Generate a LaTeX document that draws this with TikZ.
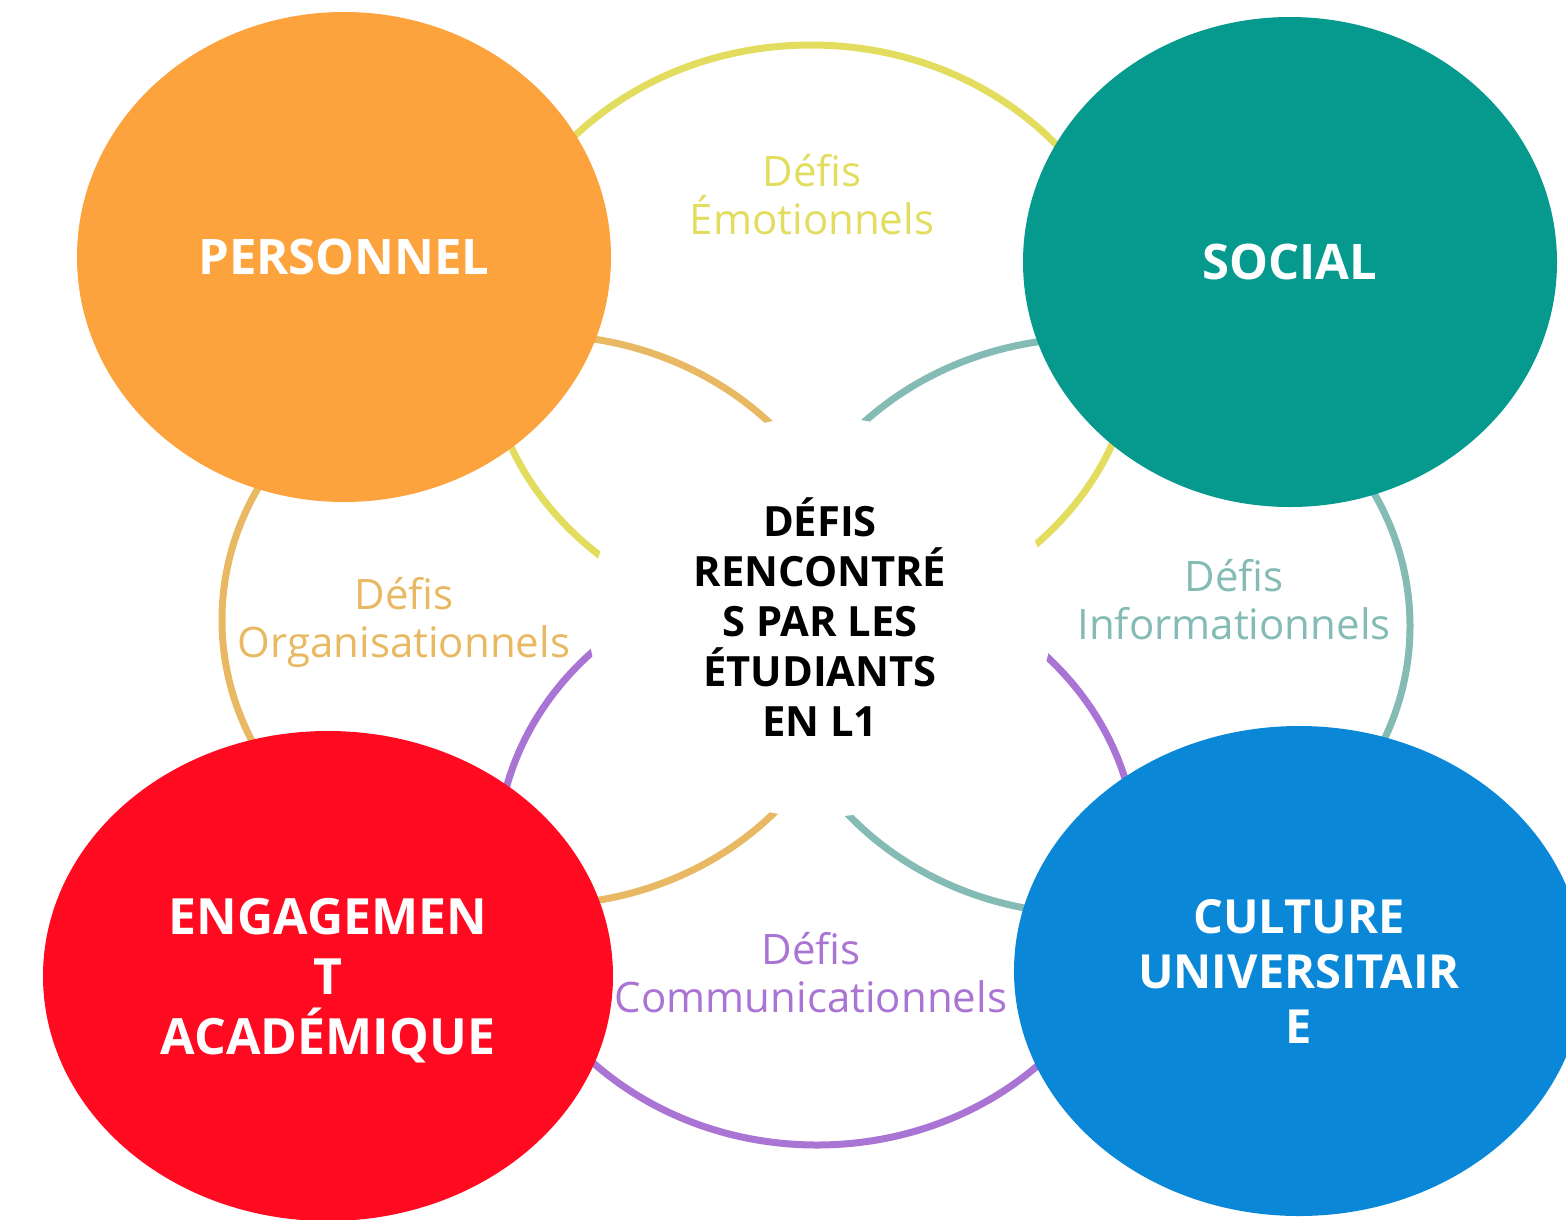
\documentclass[tikz,border=0pt]{standalone}
\usepackage{fontspec}
\setmainfont{Open Sans}
\usepackage{tikz}
\usetikzlibrary{shapes.geometric,positioning}
\definecolor{persoC}{HTML}{FDA33D}
\definecolor{socialC}{HTML}{069A8E}
\definecolor{engageC}{HTML}{FF0A20}
\definecolor{cultureC}{HTML}{0B87D8}
\definecolor{emoC}{HTML}{E2DD5F}
\definecolor{orgaC}{HTML}{E8B962}
\definecolor{infoC}{HTML}{84BBB4}
\definecolor{commC}{HTML}{A974D3}
\tikzstyle{blob} = [ellipse,inner sep=0,minimum width=534,minimum height=490,text=white,align=center,font=\bfseries\fontsize{49}{58}\selectfont]
\tikzstyle{ring} = [line width=7pt]
\tikzstyle{lbl} = [align=center,font=\fontsize{42}{48}\selectfont]
\def \rx {320}
\def \ry {288}

\begin{document}
\begin{tikzpicture}[x=1pt,y=-1pt]
      \useasboundingbox (0,0) rectangle (1566,1219);
      % rings
      \draw[ring,emoC] (811,335) ellipse [x radius=325,y radius=290];
      \draw[ring,orgaC] (540,620) ellipse [x radius=318,y radius=285];
      \draw[ring,infoC] (1090,626) ellipse [x radius=\rx,y radius=\ry];
      \draw[ring,commC] (817,857) ellipse [x radius=\rx,y radius=\ry];
      % centre
      \node[ellipse,fill=white,inner sep=0,minimum width=464,minimum height=400,align=center,font=\bfseries\fontsize{41.7}{50}\selectfont] (centre) at (820,617) {DÉFIS\\RENCONTRÉ\\S PAR LES\\ÉTUDIANTS\\EN L1};
      % corners
      \node[blob,fill=persoC] (perso) at (344,257) {PERSONNEL};
      \node[blob,fill=socialC] (social) at (1290,262) {SOCIAL};
      \node[blob,fill=engageC,minimum width=570,font=\bfseries\fontsize{50}{60}\selectfont] (engage) at (328,976) {};
      \node[white,align=center,font=\bfseries\fontsize{50}{60}\selectfont] (engageT) at (328,981) {ENGAGEMEN\\T\\ACADÉMIQUE};
      \node[blob,fill=cultureC,minimum width=570,font=\bfseries\fontsize{47}{55}\selectfont] (culture) at (1299,971) {CULTURE\\UNIVERSITAIR\\E};
      % labels
      \node[lbl,text=emoC] (emo) at (812,195) {Défis\\Émotionnels};
      \node[lbl,text=orgaC] (orga) at (404,622) {Défis\\Organisationnels};
      \node[lbl,text=infoC] (info) at (1234,600) {Défis\\Informationnels};
      \node[lbl,text=commC] (comm) at (811,973) {Défis\\Communicationnels};
    \end{tikzpicture}
\end{document}
